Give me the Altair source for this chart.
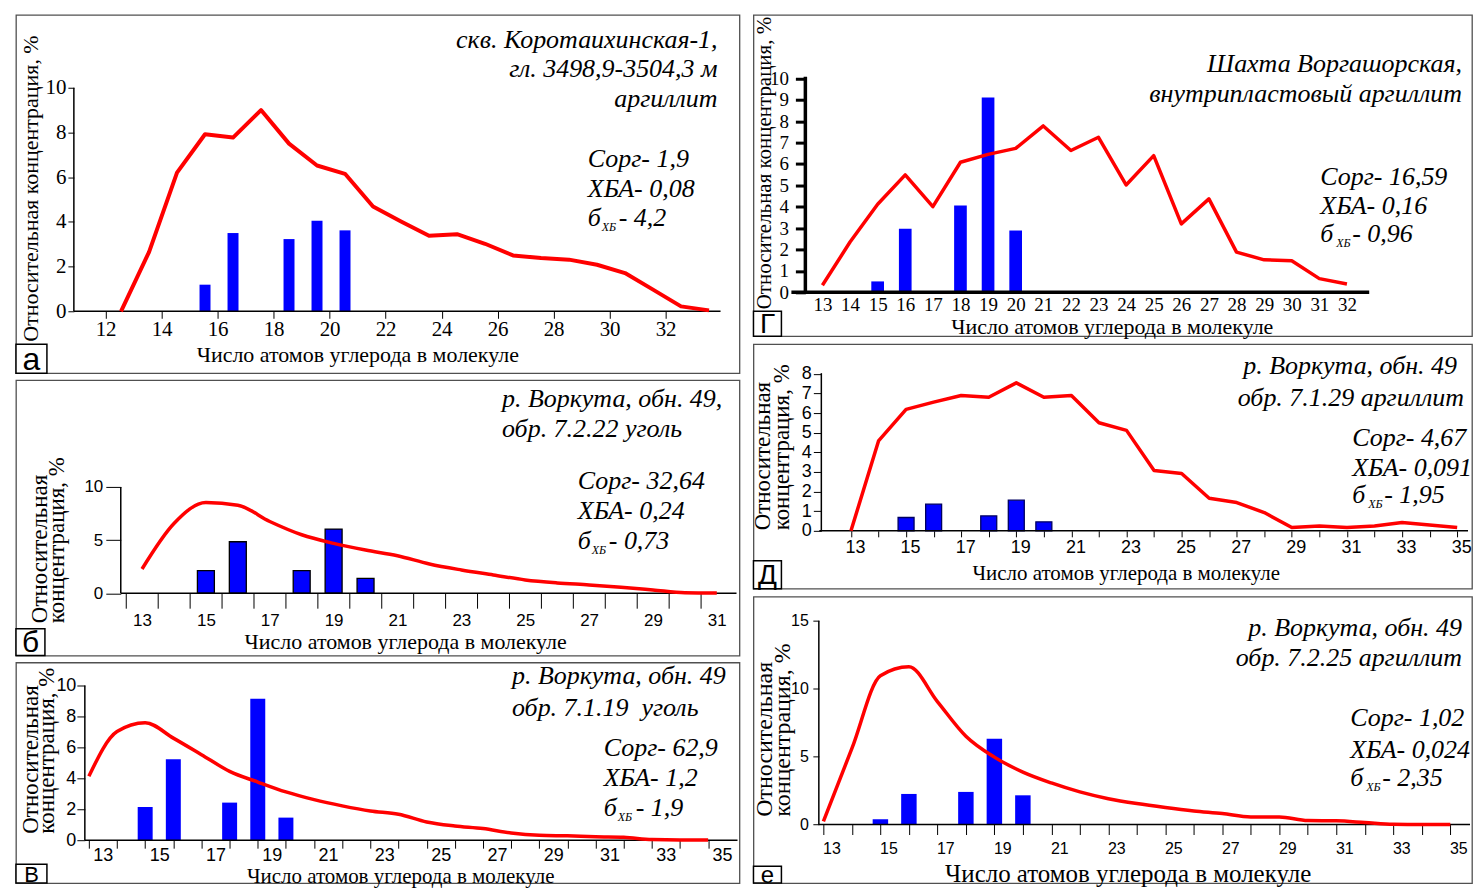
import altair as alt
import pandas as pd

SERIF = "Liberation Serif"
SANS = "Liberation Sans"
RED = "#FF0000"
BLUE = "#0000FF"

X_TITLE = "Число атомов углерода в молекуле"
Y_TITLE_1 = "Относительная концентрация, %"
Y_TITLE_2 = ["Относительная", "концентрация, %"]

BAR_C = [15, 16, 18, 19, 20]

# ---- panel а : скв. Коротаихинская-1
A_LINE_C = list(range(12, 34))
A_LINE_V = [0, 2.65, 6.2, 7.92, 7.77, 9.0, 7.5, 6.52, 6.15, 4.69, 4.02, 3.38, 3.45,
            3.02, 2.5, 2.38, 2.31, 2.08, 1.71, 0.97, 0.22, 0.04]
A_BAR_V = [1.19, 3.5, 3.23, 4.05, 3.62]

# ---- panel г : Шахта Воргашорская
G_LINE_C = list(range(13, 33))
G_LINE_V = [0.33, 2.35, 4.12, 5.49, 4.01, 6.08, 6.45, 6.73, 7.78, 6.63, 7.25, 5.02,
            6.39, 3.2, 4.37, 1.88, 1.52, 1.48, 0.64, 0.39]
G_BAR_V = [0.51, 2.97, 4.06, 9.11, 2.89]

# ---- panel б : обр. 7.2.22 уголь
B_LINE_C = list(range(13, 32))
B_LINE_V = [2.28, 6.56, 8.53, 8.28, 6.75, 5.5, 4.69, 4.06, 3.53, 2.75, 2.19, 1.72,
            1.25, 0.97, 0.78, 0.56, 0.31, 0.05, 0.02]
B_BAR_V = [2.12, 4.84, 2.12, 6.03, 1.4]

# ---- panel д : обр. 7.1.29 аргиллит
D_LINE_C = list(range(13, 36))
D_LINE_V = [0, 4.58, 6.19, 6.56, 6.9, 6.81, 7.54, 6.81, 6.9, 5.51, 5.12, 3.08, 2.92,
            1.66, 1.44, 0.93, 0.17, 0.25, 0.17, 0.25, 0.42, 0.3, 0.17]
D_BAR_V = [0.68, 1.36, 0.76, 1.56, 0.46]

# ---- panel в : обр. 7.1.19 уголь
V_LINE_C = list(range(13, 36))
V_LINE_V = [4.13, 7.03, 7.6, 6.6, 5.53, 4.45, 3.76, 3.12, 2.62, 2.22, 1.89, 1.68,
            1.18, 0.92, 0.75, 0.47, 0.32, 0.28, 0.22, 0.19, 0.04, 0.02, 0.02]
V_BAR_V = [2.15, 5.23, 2.43, 9.14, 1.46]

# ---- panel е : обр. 7.2.25 аргиллит
E_LINE_C = list(range(13, 36))
E_LINE_V = [0.24, 5.6, 10.95, 11.61, 9.05, 6.5, 4.96, 3.86, 3.06, 2.4, 1.9, 1.54,
            1.25, 1.0, 0.81, 0.56, 0.56, 0.29, 0.27, 0.15, 0.02, 0, 0]
E_BAR_V = [0.39, 2.25, 2.4, 6.31, 2.15]

DUMMY = alt.Data(values=[{"k": 0}])

PANELS = {
    "а": dict(
        line_c=A_LINE_C, line_v=A_LINE_V, bar_v=A_BAR_V,
        frame=(14, 13, 739, 372), xmap=((12, 100), (32, 669)), ymap=((0, 310), (10, 86)),
        off=0.55, interp="linear", lw=4, bw=11, bstroke=None,
        xvals=list(range(12, 33, 2)), odd=False, xtick=7, xtick_off=0, xlab_off=0, xlab_cy=328,
        lab_font=SERIF, lab_size=21,
        yvals=[0, 2, 4, 6, 8, 10], yaxis_x=72, ytick=6, ytick_w=1, ylab_right=64,
        xrule=(72, 720), yrule_top=86, axis_w=1.5,
        ytitle=[Y_TITLE_1], yt=(28.5, 186.5), yt_size=22, yt_lh=20, yt_align="center",
        xt=(356, 353), xt_size=22,
        ann=[("скв. Коротаихинская-1,", 717, 38, "right"), ("гл. 3498,9-3504,3 м", 717, 67, "right"),
             ("аргиллит", 717, 97, "right")],
        stats=(587, (157, 187, 217), ("1,9", "0,08", "4,2"), 14, 31, 9),
        letter=("а", (14, 343, 45, 372), 32),
    ),
    "г": dict(
        line_c=G_LINE_C, line_v=G_LINE_V, bar_v=G_BAR_V,
        frame=(750, 13, 1470, 335), xmap=((13, 815), (32, 1348)), ymap=((0, 291), (10, 76.7)),
        off=0, interp="linear", lw=3.5, bw=12.7, bstroke=None,
        xvals=list(range(13, 33)), odd=False, xtick=0, xtick_off=0, xlab_off=0, xlab_cy=303,
        lab_font=SERIF, lab_size=19,
        yvals=list(range(0, 11)), yaxis_x=802, ytick=10, ytick_w=3, ylab_right=785,
        xrule=(788, 1367), yrule_top=75, axis_w=3.5,
        ytitle=[Y_TITLE_1], yt=(761, 161), yt_size=21, yt_lh=20, yt_align="center",
        xt=(1109, 325), xt_size=22,
        ann=[("Шахта Воргашорская,", 1460, 62, "right"), ("внутрипластовый аргиллит", 1460, 92, "right")],
        stats=(1318, (175, 205, 233), ("16,59", "0,16", "0,96"), 16, 32, 9),
        letter=("Г", (750, 310, 778, 335), 28),
    ),
    "б": dict(
        line_c=B_LINE_C, line_v=B_LINE_V, bar_v=B_BAR_V,
        frame=(14, 379, 739, 655), xmap=((13, 137), (31, 721)), ymap=((0, 592.5), (10, 486)),
        off=0, interp="monotone", lw=3.5, bw=17, bstroke="black",
        xvals=list(range(13, 33)), odd=True, xtick=15, xtick_off=-16.2, xlab_off=16.2, xlab_cy=620,
        lab_font=SANS, lab_size=17,
        yvals=[0, 5, 10], yaxis_x=119, ytick=15, ytick_w=1, ylab_right=101,
        xrule=(119, 736), yrule_top=486, axis_w=1.5,
        ytitle=Y_TITLE_2, yt=(38, 622), yt_size=23, yt_lh=16.6, yt_align="left",
        xt=(404, 641), xt_size=22,
        ann=[("р. Воркута, обн. 49,", 501, 398, "left"), ("обр. 7.2.22 уголь", 501, 428, "left")],
        stats=(577, (480, 510, 540), ("32,64", "0,24", "0,73"), 14, 31, 9),
        letter=("б", (14, 628, 43, 655), 30),
    ),
    "д": dict(
        line_c=D_LINE_C, line_v=D_LINE_V, bar_v=D_BAR_V,
        frame=(750, 343, 1470, 588), xmap=((13, 844), (35, 1460)), ymap=((0, 530), (8, 372.7)),
        off=0, interp="linear", lw=3.5, bw=16, bstroke="#000060",
        xvals=list(range(13, 36)), odd=True, xtick=6, xtick_off=0, xlab_off=4, xlab_cy=547,
        lab_font=SANS, lab_size=18,
        yvals=list(range(0, 9)), yaxis_x=818, ytick=8, ytick_w=1, ylab_right=808,
        xrule=(816, 1466), yrule_top=372, axis_w=1.5,
        ytitle=Y_TITLE_2, yt=(759, 529), yt_size=23, yt_lh=19, yt_align="left",
        xt=(1123, 573), xt_size=21,
        ann=[("р. Воркута, обн. 49", 1455, 365, "right"), ("обр. 7.1.29 аргиллит", 1462, 397, "right")],
        stats=(1350, (437, 467, 494), ("4,67", "0,091", "1,95"), 16, 32, 9),
        letter=("Д", (750, 560, 778, 588), 28),
    ),
    "в": dict(
        line_c=V_LINE_C, line_v=V_LINE_V, bar_v=V_BAR_V,
        frame=(14, 662, 739, 883), xmap=((13, 83), (35, 712.2)), ymap=((0, 840), (10, 685)),
        off=0, interp="monotone", lw=3.5, bw=15, bstroke=None,
        xvals=list(range(13, 36)), odd=True, xtick=8, xtick_off=0, xlab_off=14, xlab_cy=855,
        lab_font=SANS, lab_size=18,
        yvals=[0, 2, 4, 6, 8, 10], yaxis_x=83, ytick=8, ytick_w=1, ylab_right=74,
        xrule=(83, 737), yrule_top=685, axis_w=1.5,
        ytitle=Y_TITLE_2, yt=(28.5, 833), yt_size=23, yt_lh=16.5, yt_align="left",
        xt=(399, 876), xt_size=21,
        ann=[("р. Воркута, обн. 49", 511, 675, "left"), ("обр. 7.1.19\u00a0 уголь", 511, 708, "left")],
        stats=(603, (748, 778, 808), ("62,9", "1,2", "1,9"), 14, 32, 9),
        letter=("В", (14, 864, 45, 883), 22),
    ),
    "е": dict(
        line_c=E_LINE_C, line_v=E_LINE_V, bar_v=E_BAR_V,
        frame=(750, 596, 1470, 883), xmap=((13, 816), (35, 1453)), ymap=((0, 824.3), (15, 620)),
        off=0, interp="monotone", lw=3.5, bw=15.5, bstroke=None,
        xvals=list(range(13, 36)), odd=True, xtick=10, xtick_off=0, xlab_off=8, xlab_cy=848,
        lab_font=SANS, lab_size=16,
        yvals=[0, 5, 10, 15], yaxis_x=815.5, ytick=6, ytick_w=1, ylab_right=805,
        xrule=(815, 1468), yrule_top=620, axis_w=1.5,
        ytitle=Y_TITLE_2, yt=(761, 816), yt_size=24, yt_lh=18, yt_align="left",
        xt=(1125, 873), xt_size=25,
        ann=[("р. Воркута, обн. 49", 1460, 627, "right"), ("обр. 7.2.25 аргиллит", 1460, 657, "right")],
        stats=(1348, (718, 750, 778), ("1,02", "0,024", "2,35"), 16, 32, 9),
        letter=("е", (750, 866, 778, 883), 24),
    ),
}


def text_layer(s, x, y, size, font=SERIF, italic=True, align="left", baseline="middle"):
    return alt.Chart(DUMMY).mark_text(
        text=s, font=font, fontSize=size, fontStyle="italic" if italic else "normal",
        align=align, baseline=baseline, color="black",
    ).encode(x=alt.value(x), y=alt.value(y))


def build(p):
    fx0, fy0, fx1, fy1 = p["frame"]
    W, H = fx1 - fx0, fy1 - fy0
    (ua, pa), (ub, pb) = p["xmap"]
    kx = (pb - pa) / (ub - ua)
    xdom = [ua - (pa - fx0) / kx, ua + (fx1 - pa) / kx]
    (va, qa), (vb, qb) = p["ymap"]
    ky = (qa - qb) / (vb - va)
    ydom = [va - (fy1 - qa) / ky, va + (qa - fy0) / ky]
    ax_x, ax_y = p["yaxis_x"], qa

    label_expr = "datum.value % 2 == 1 ? datum.label : ''" if p["odd"] else "datum.label"
    xaxis = alt.Axis(
        values=p["xvals"], labelExpr=label_expr, domain=False, grid=False,
        ticks=True, tickSize=p["xtick"], tickColor="black", tickWidth=1, tickOffset=p["xtick_off"],
        labelFont=p["lab_font"], labelFontSize=p["lab_size"], labelColor="black",
        labelBaseline="middle", labelAlign="center",
        labelPadding=p["xlab_cy"] - ax_y - p["xtick"], labelOffset=p["xlab_off"],
        labelFlush=False, labelOverlap=False, offset=-(fy1 - ax_y),
        title=X_TITLE, titleFont=SERIF, titleFontSize=p["xt_size"], titleFontWeight="normal",
        titleColor="black", titleX=p["xt"][0] - fx0, titleY=p["xt"][1] - ax_y,
        titleAlign="center", titleBaseline="middle", titleAngle=0,
    )
    ytitle = p["ytitle"] if len(p["ytitle"]) > 1 else p["ytitle"][0]
    yaxis = alt.Axis(
        values=p["yvals"], domain=False, grid=False,
        ticks=True, tickSize=p["ytick"], tickColor="black", tickWidth=p["ytick_w"],
        labelFont=p["lab_font"], labelFontSize=p["lab_size"], labelColor="black",
        labelBaseline="middle", labelAlign="right",
        labelPadding=ax_x - p["ytick"] - p["ylab_right"],
        labelFlush=False, labelOverlap=False, offset=-(ax_x - fx0),
        title=ytitle, titleFont=SERIF, titleFontSize=p["yt_size"], titleFontWeight="normal",
        titleColor="black", titleX=p["yt"][0] - ax_x, titleY=p["yt"][1] - fy0,
        titleAlign=p["yt_align"], titleBaseline="middle", titleAngle=270,
        titleLineHeight=p["yt_lh"],
    )
    X = alt.X("pos:Q", scale=alt.Scale(domain=xdom, nice=False, zero=False), axis=xaxis)
    Y = alt.Y("v:Q", scale=alt.Scale(domain=ydom, nice=False, zero=False), axis=yaxis)

    line_df = pd.DataFrame({"C": p["line_c"], "v": p["line_v"]})
    bar_df = pd.DataFrame({"C": BAR_C, "v": p["bar_v"]})
    shift = f"datum.C + {p['off']}"

    bar_kw = dict(color=BLUE, size=p["bw"])
    if p["bstroke"]:
        bar_kw.update(stroke=p["bstroke"], strokeWidth=1.3)
    bars = alt.Chart(bar_df).transform_calculate(pos=shift).mark_bar(**bar_kw).encode(
        x=X, y=Y, y2=alt.datum(0))
    line = alt.Chart(line_df).transform_calculate(pos=shift).mark_line(
        color=RED, strokeWidth=p["lw"], interpolate=p["interp"], strokeJoin="round").encode(x=X, y=Y)

    xr = alt.Chart(DUMMY).mark_rule(color="black", strokeWidth=p["axis_w"]).encode(
        x=alt.value(p["xrule"][0] - fx0), x2=alt.value(p["xrule"][1] - fx0), y=alt.value(ax_y - fy0))
    yr = alt.Chart(DUMMY).mark_rule(color="black", strokeWidth=p["axis_w"]).encode(
        x=alt.value(ax_x - fx0), y=alt.value(p["yrule_top"] - fy0), y2=alt.value(ax_y - fy0))

    layers = [bars, xr, yr, line]

    for s, x, y, al in p["ann"]:
        layers.append(text_layer(s, x - fx0, y - fy0, 26, align=al))

    sx, (y1, y2, y3), (s1, s2, s3), dsub, drest, dy = p["stats"]
    layers.append(text_layer("Сорг- " + s1, sx - fx0, y1 - fy0, 26))
    layers.append(text_layer("ХБА- " + s2, sx - fx0, y2 - fy0, 26))
    layers.append(text_layer("б", sx - fx0, y3 - fy0, 26))
    layers.append(text_layer("ХБ", sx + dsub - fx0, y3 + dy - fy0, 12))
    layers.append(text_layer("- " + s3, sx + drest - fx0, y3 - fy0, 26))

    ch, (lx0, ly0, lx1, ly1), lsize = p["letter"]
    layers.append(alt.Chart(DUMMY).mark_rect(fill="white", stroke="black", strokeWidth=1.5).encode(
        x=alt.value(lx0 - fx0), x2=alt.value(lx1 - fx0), y=alt.value(ly0 - fy0), y2=alt.value(ly1 - fy0)))
    layers.append(text_layer(ch, (lx0 + lx1) / 2 - fx0, (ly0 + ly1) / 2 - fy0 + 1, lsize,
                             font=SANS, italic=False, align="center"))

    return alt.layer(*layers).properties(width=W, height=H)


left = alt.vconcat(build(PANELS["а"]), build(PANELS["б"]), build(PANELS["в"]), spacing=7, bounds="flush")
right = alt.vconcat(build(PANELS["г"]), build(PANELS["д"]), build(PANELS["е"]), spacing=8, bounds="flush")

chart = alt.hconcat(left, right, spacing=10).properties(
    padding={"left": 6, "top": 5, "right": 0, "bottom": 0}, background="white"
).configure_view(stroke="#505050", strokeWidth=1.3)

chart.save("out.html", embed_options={"renderer": "svg", "actions": False})
